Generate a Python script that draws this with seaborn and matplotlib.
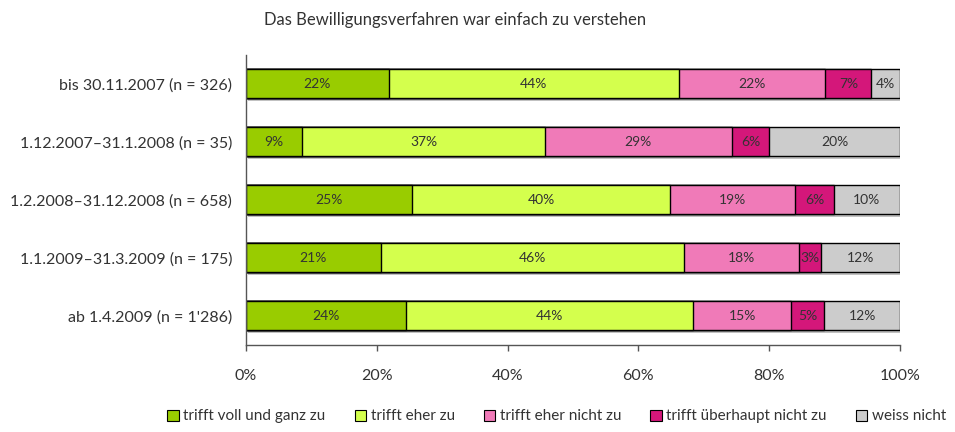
import numpy as np
import pandas as pd
import matplotlib
matplotlib.use("Agg")
from matplotlib import pyplot as plt
from matplotlib.patches import Patch
import matplotlib.patheffects as pe
import seaborn as sns

# Daten
periods = ["bis 30.11.2007 (n = 326)",
           "1.12.2007\u201331.1.2008 (n = 35)",
           "1.2.2008\u201331.12.2008 (n = 658)",
           "1.1.2009\u201331.3.2009 (n = 175)",
           "ab 1.4.2009 (n = 1'286)"]
voll = [21.8, 8.6, 25.4, 20.6, 24.4]
eher = [44.4, 37.1, 39.5, 46.3, 43.9]
eher_nicht = [22.4, 28.6, 19.1, 17.6, 15.1]
ueberhaupt_nicht = [7.0, 5.7, 5.9, 3.4, 5.0]
weiss_nicht = [4.4, 20.0, 10.1, 12.1, 11.6]
answers = ["trifft voll und ganz zu", "trifft eher zu", "trifft eher nicht zu",
           "trifft überhaupt nicht zu", "weiss nicht"]
colors = ["#99CC00", "#D4FF4D", "#F07AB8", "#D4177A", "#CCCCCC"]

sns.set_theme(style="white")
plt.rcParams['font.family'] = ['Lato', 'DejaVu Sans']

df = pd.DataFrame([voll, eher, eher_nicht, ueberhaupt_nicht, weiss_nicht],
                  index=answers, columns=periods).T
cum = df.cumsum(axis=1)

fig = plt.figure(figsize=(9.55, 4.32), dpi=100)
ax = fig.add_axes([0.2576, 0.2014, 0.6848, 0.6713])

## gestapelt: von hinten (Summe) nach vorne
for i in range(len(answers) - 1, -1, -1):
    d = pd.DataFrame({"period": periods, "val": cum[answers[i]].values})
    sns.barplot(data=d, x="val", y="period", color=colors[i], orient="h",
                width=0.5, edgecolor="black", linewidth=1.0, saturation=1, ax=ax)
    if i == len(answers) - 1:
        for p in ax.patches:
            p.set_path_effects([pe.SimplePatchShadow(offset=(1.5, -1.5), shadow_rgbFace="#999999", alpha=0.6), pe.Normal()])

## Beschriftung
for j, per in enumerate(periods):
    left = 0
    for a in answers:
        v = df.loc[per, a]
        ax.text(left + v / 2, j, f"{round(v):.0f}%", ha="center", va="center",
                fontsize=10, color="#333333")
        left += v

ax.set_xlim(0, 100)
ax.set_ylim(4.5, -0.5)
ax.set_xticks(range(0, 101, 20))
ax.set_xticklabels([f"{t}%" for t in range(0, 101, 20)])
ax.set_xlabel("")
ax.set_ylabel("")
for s in ["top", "right"]:
    ax.spines[s].set_visible(False)
for s in ["left", "bottom"]:
    ax.spines[s].set_color("#555555")
    ax.spines[s].set_linewidth(1.0)
ax.tick_params(axis="x", bottom=True, direction="out", length=4, width=1, color="#555555",
               pad=13, labelsize=11.5, labelcolor="#333333")
ax.tick_params(axis="y", left=False, length=0, pad=10, labelsize=11.5, labelcolor="#333333")

fig.text(0.477, 0.954, "Das Bewilligungsverfahren war einfach zu verstehen",
         ha="center", va="center", fontsize=12, color="#333333")

handles = [Patch(facecolor=c, edgecolor="black", linewidth=0.8) for c in colors]
fig.legend(handles, answers, loc="lower center", bbox_to_anchor=(0.583, -0.012), ncol=5,
           frameon=False, handlelength=0.75, handleheight=0.75, handletextpad=0.3,
           columnspacing=1.9, fontsize=11, labelcolor="#333333")

fig.savefig("out.png", dpi=100)
